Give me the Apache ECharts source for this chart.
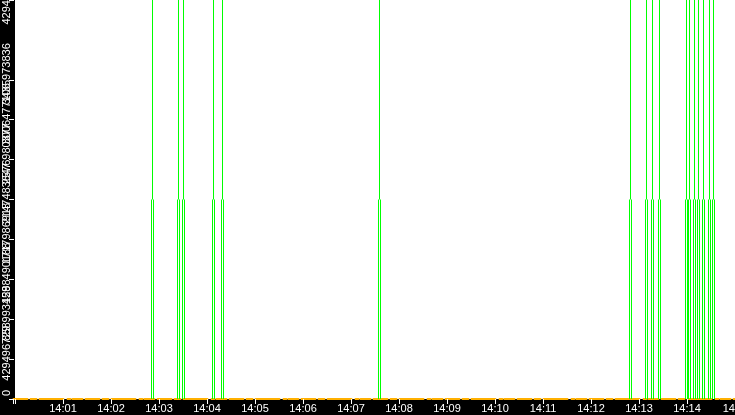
<!DOCTYPE html>
<html>
<head>
<meta charset="utf-8">
<script src="https://cdn.jsdelivr.net/npm/echarts@6/dist/echarts.min.js"></script>
<style>
html,body{margin:0;padding:0;background:#000;}
#chart{width:735px;height:415px;}
</style>
</head>
<body>
<div id="chart"></div>
<script>
// Event times (x)
const eventTimes = ['14:02:51.875','14:03:24.375','14:03:30.625','14:04:08.125','14:04:19.375',
  '14:07:35.625','14:12:49.375','14:13:09.375','14:13:16.875','14:13:25.625','14:13:59.375',
  '14:14:03.125','14:14:09.375','14:14:14.375','14:14:20.625','14:14:28.125','14:14:33.125'];
// Upper level of each event (green single line reaches this)
const highValues = [4294967295,4294967295,4294967295,4294967295,4294967295,4294967295,
  4294967295,4294967295,4294967295,4294967295,4294967295,4294967295,4294967295,
  4294967295,4294967295,4294967295,4294967295];
// Lower level of each event (green double line reaches this)
const lowValues = [2147483647,2147483647,2147483647,2147483647,2147483647,2147483647,
  2147483647,2147483647,2147483647,2147483647,2147483647,2147483647,2147483647,
  2147483647,2147483647,2147483647,2147483647];
// Axis ranges / ticks
const xStart = '14:00:00';
const xEnd = '14:15:00';
const yMin = 0;
const yMax = 4294967295;
const yTickCount = 10;

function toTs(s){
  const p = s.split(':').map(Number);
  const sec = p[2] || 0;
  return new Date(2024,0,1,p[0],p[1],Math.floor(sec),Math.round((sec-Math.floor(sec))*1000)).getTime();
}
function fmtHM(v){ const d = new Date(v); return String(d.getHours()).padStart(2,'0')+':'+String(d.getMinutes()).padStart(2,'0'); }

const xMin = toTs(xStart), xMax = toTs(xEnd);
const xs = eventTimes.map(toTs);
const lowData = xs.map((x,i)=>[x, lowValues[i]]);
const upperSeg = xs.map((x,i)=>[x, highValues[i]-lowValues[i]]);

const GREEN = '#00ff00';
const chart = echarts.init(document.getElementById('chart'), null, {renderer:'canvas'});
chart.setOption({
  backgroundColor:'#000',
  animation:false,
  // bars on a time axis make ECharts pad the axis by half the bar group width (1.5px each side)
  grid:{left:13.5,right:-1.5,top:0,bottom:16,containLabel:false,outerBoundsMode:'none',
        show:true,backgroundColor:'#ffffff',borderWidth:0},
  xAxis:{
    type:'time', min:xMin, max:xMax, minInterval:60000, maxInterval:60000,
    splitLine:{show:false},
    axisLine:{show:true,onZero:false,lineStyle:{color:'#ffb000',width:2,type:[14,3,6,3,24,4,3,2,10,3]}},
    axisTick:{show:true,length:5,lineStyle:{color:'#ffffff'}},
    axisLabel:{color:'#ffffff',fontFamily:'Liberation Sans',fontSize:11,margin:4,
      hideOverlap:false,showMinLabel:true,showMaxLabel:true,
      formatter:v=>(v <= xMin ? '' : fmtHM(v))}
  },
  yAxis:{
    type:'value', min:yMin, max:yMax, interval:(yMax-yMin)/yTickCount, offset:-0.5,
    splitLine:{show:false},
    axisLine:{show:true,lineStyle:{color:'#000000',width:2}},
    axisTick:{show:true,length:5,lineStyle:{color:'#ffffff'}},
    axisLabel:{color:'#ffffff',fontFamily:'Liberation Sans',fontSize:11,rotate:90,margin:2,
      hideOverlap:false,padding:[0,0,0,12],
      showMinLabel:true,showMaxLabel:true,formatter:v=>String(Math.floor(v+1e-6))}
  },
  series:[
    {type:'bar',name:'lowL',data:lowData,barWidth:1,barGap:0,itemStyle:{color:GREEN},z:3},
    {type:'bar',name:'base',stack:'c',data:lowData,barWidth:1,barGap:0,itemStyle:{color:'rgba(0,0,0,0)'},z:3},
    {type:'bar',name:'high',stack:'c',data:upperSeg,barWidth:1,barGap:0,itemStyle:{color:GREEN},z:3},
    {type:'bar',name:'lowR',data:lowData,barWidth:1,barGap:0,itemStyle:{color:GREEN},z:3}
  ]
});
</script>
</body>
</html>
